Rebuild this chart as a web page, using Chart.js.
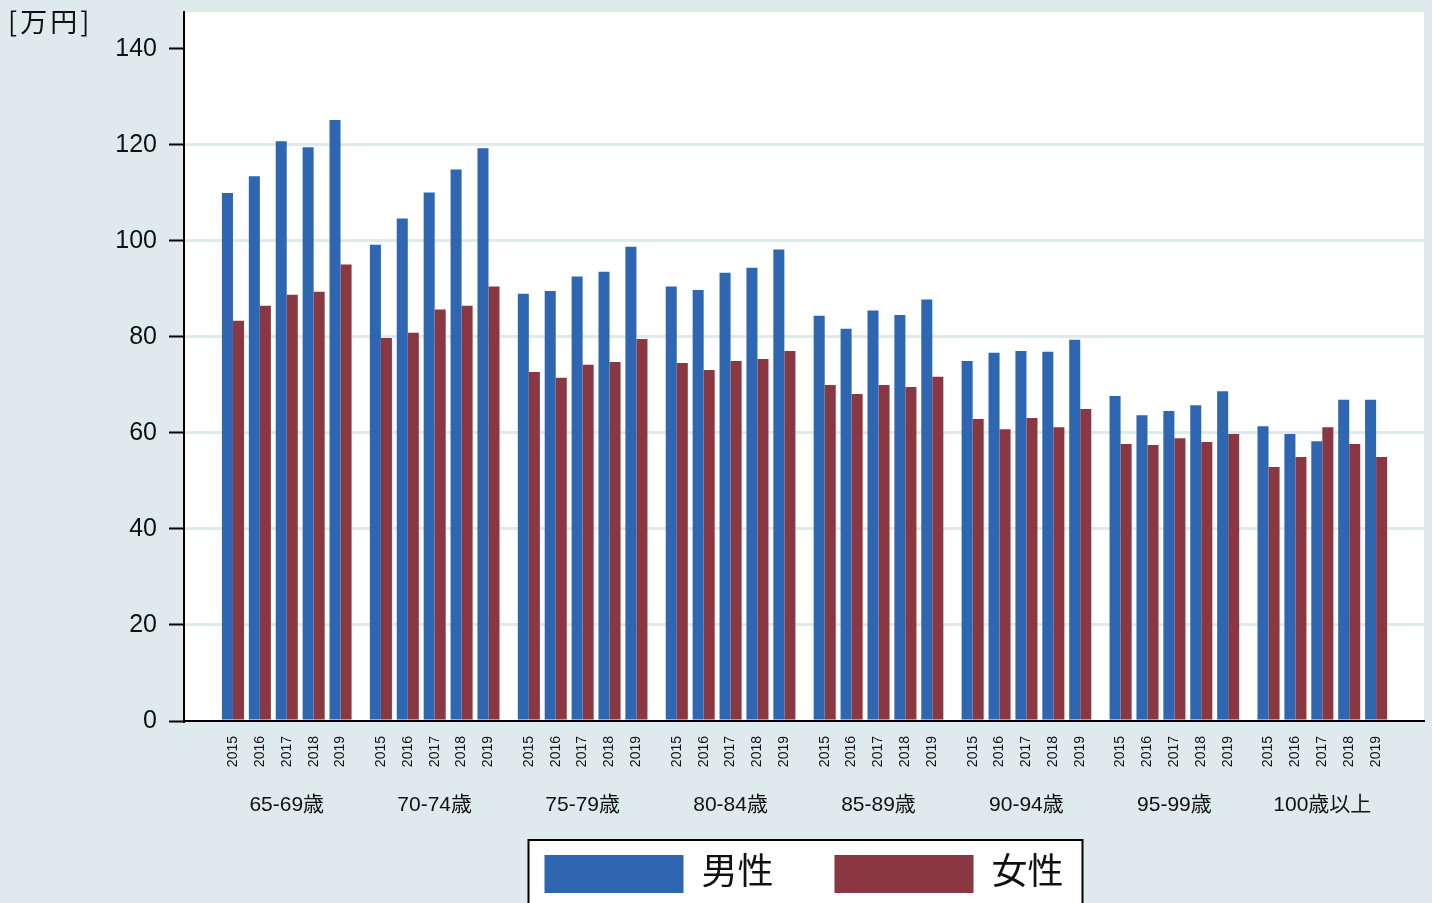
<!DOCTYPE html>
<html lang="ja">

<head>
    <meta charset="UTF-8">
    <title>年齢階級別 平均額</title>
    <script src="https://cdn.jsdelivr.net/npm/chart.js"></script>
    <style>
        body { margin: 0; background: #dfeaec; }
        canvas { display: block; }
    </style>
</head>

<body>
    <canvas id="grafico" width="1432" height="903"></canvas>

<script>
    // dados (万円)
    const grupos = ['65-69歳', '70-74歳', '75-79歳', '80-84歳', '85-89歳', '90-94歳', '95-99歳', '100歳以上'];
    const anos = ['2015', '2016', '2017', '2018', '2019'];
    const ticksY = [0, 20, 40, 60, 80, 100, 120, 140];

    const homens = [
        110.0, 113.5, 120.8, 119.5, 125.2,
        99.2, 104.7, 110.1, 114.9, 119.3,
        89.0, 89.6, 92.6, 93.6, 98.8,
        90.5, 89.8, 93.4, 94.4, 98.2,
        84.4, 81.7, 85.5, 84.6, 87.8,
        75.0, 76.7, 77.1, 76.9, 79.4,
        67.7, 63.7, 64.6, 65.8, 68.7,
        61.4, 59.8, 58.3, 66.9, 66.9
    ];
    const mulheres = [
        83.4, 86.5, 88.8, 89.4, 95.1,
        79.8, 80.9, 85.7, 86.5, 90.5,
        72.7, 71.5, 74.2, 74.8, 79.6,
        74.6, 73.1, 75.0, 75.4, 77.1,
        70.0, 68.1, 70.0, 69.6, 71.7,
        62.9, 60.8, 63.1, 61.2, 65.0,
        57.7, 57.5, 58.9, 58.1, 59.8,
        52.9, 55.0, 61.2, 57.7, 55.0
    ];

    const AZUL = '#2f66b1';
    const VERMELHO = '#8a3742';
    const FUNDO = '#dfeaec';
    const FONTE = '"Liberation Sans", Arial, "Noto Sans CJK JP", sans-serif';

    // posição no eixo x: cada grupo ocupa 5 anos + meio espaço vazio
    const passoGrupo = 5.5;
    const posicoes = [];
    const rotulosAno = [];
    grupos.forEach((g, gi) => {
        anos.forEach((a, ai) => {
            posicoes.push(gi * passoGrupo + ai);
            rotulosAno.push(a);
        });
    });
    const centrosGrupo = grupos.map((g, gi) => gi * passoGrupo + 2);

    const fundoPlugin = {
        id: 'fundo',
        beforeDraw(chart) {
            const { ctx, chartArea } = chart;
            ctx.save();
            ctx.fillStyle = FUNDO;
            ctx.fillRect(0, 0, chart.width, chart.height);
            ctx.fillStyle = '#ffffff';
            ctx.fillRect(chartArea.left, chartArea.top, chartArea.right - chartArea.left, chartArea.bottom - chartArea.top);

            // moldura da legenda
            const caixas = chart.legend.legendHitBoxes;
            if (caixas && caixas.length) {
                const esq = caixas[0].left - 16;
                const ult = caixas[caixas.length - 1];
                const dir = ult.left + ult.width + 19;
                const topo = caixas[0].top - 15;
                ctx.fillStyle = '#ffffff';
                ctx.fillRect(esq, topo, dir - esq, chart.height - topo + 10);
                ctx.strokeStyle = '#000000';
                ctx.lineWidth = 2;
                ctx.strokeRect(esq, topo, dir - esq, chart.height - topo + 10);
            }

            // unidade
            ctx.fillStyle = '#111111';
            ctx.font = '27px "Noto Sans CJK JP", sans-serif';
            ctx.letterSpacing = '3px';
            ctx.textBaseline = 'alphabetic';
            ctx.textAlign = 'left';
            ctx.fillText('[万円]', 8, 32);
            ctx.restore();
        }
    };

    const ctx1 = document.getElementById('grafico').getContext('2d');
    const grafico = new Chart(ctx1, {
        type: 'bar',
        data: {
            datasets: [{
                label: '男性',
                data: homens.map((v, i) => ({ x: posicoes[i], y: v })),
                backgroundColor: AZUL,
                borderWidth: 0
            }, {
                label: '女性',
                data: mulheres.map((v, i) => ({ x: posicoes[i], y: v })),
                backgroundColor: VERMELHO,
                borderWidth: 0
            }]
        },
        options: {
            responsive: false,
            animation: false,
            categoryPercentage: 0.82,
            barPercentage: 1.0,
            layout: { padding: { top: 12, right: 8, left: 0, bottom: 0 } },
            plugins: {
                tooltip: { enabled: false },
                legend: {
                    position: 'bottom',
                    fullSize: false,
                    maxHeight: 111,
                    labels: {
                        boxWidth: 139,
                        boxHeight: 38,
                        padding: 61,
                        color: '#111111',
                        font: { size: 36, family: FONTE }
                    }
                }
            },
            scales: {
                x: {
                    type: 'linear',
                    min: -1.82,
                    max: 7 * passoGrupo + 4 + 1.78,
                    offset: false,
                    afterBuildTicks: s => { s.ticks = posicoes.map(p => ({ value: p })); },
                    afterFit: s => { s.height = 50; },
                    grid: { display: false, drawTicks: false },
                    border: { display: true, color: '#000000', width: 2 },
                    ticks: {
                        autoSkip: false,
                        minRotation: 90,
                        maxRotation: 90,
                        padding: 15,
                        color: '#111111',
                        font: { size: 14, family: FONTE },
                        callback: (v, i) => rotulosAno[i]
                    }
                },
                x2: {
                    type: 'linear',
                    position: 'bottom',
                    min: -1.82,
                    max: 7 * passoGrupo + 4 + 1.78,
                    offset: false,
                    afterBuildTicks: s => { s.ticks = centrosGrupo.map(p => ({ value: p })); },
                    afterFit: s => { s.height = 23; },
                    grid: { display: false, drawTicks: false },
                    border: { display: false },
                    ticks: {
                        autoSkip: false,
                        maxRotation: 0,
                        mirror: true, // evita o recorte dos rótulos pela caixa do eixo
                        padding: -47,
                        color: '#111111',
                        font: { size: 21, family: FONTE },
                        callback: (v, i) => grupos[i]
                    }
                },
                y: {
                    min: 0,
                    max: 147.7,
                    afterBuildTicks: s => { s.ticks = ticksY.map(v => ({ value: v })); },
                    afterFit: s => { s.width = 184; s.paddingTop = 0; s.paddingBottom = 0; },
                    grid: {
                        color: c => (c.tick && c.tick.value === 140) ? 'rgba(0,0,0,0)' : FUNDO,
                        lineWidth: 3,
                        tickLength: 15,
                        tickColor: '#000000',
                        tickWidth: 2
                    },
                    border: { display: true, color: '#000000', width: 2 },
                    ticks: {
                        padding: 12,
                        color: '#111111',
                        font: { size: 25, family: FONTE }
                    }
                }
            }
        },
        plugins: [fundoPlugin]
    });
</script>
</body>

</html>
